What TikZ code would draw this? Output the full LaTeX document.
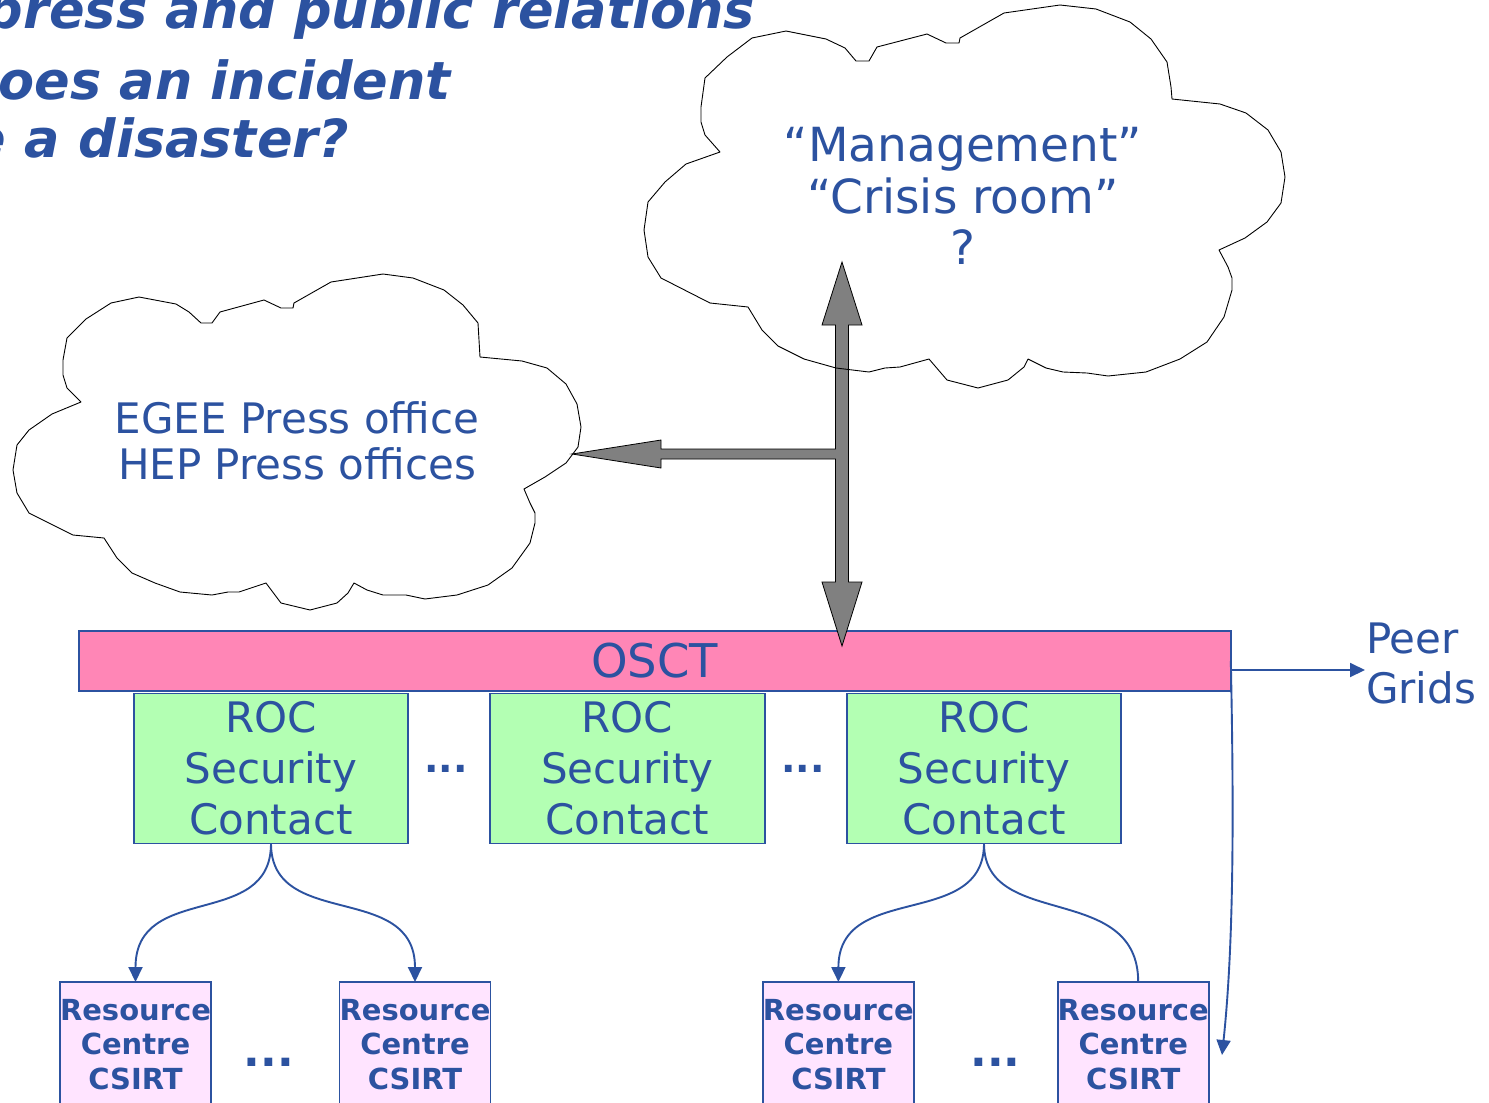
\documentclass[tikz,border=0pt]{standalone}
\usepackage{fontspec}
\setmainfont{DejaVu Sans}
\usetikzlibrary{arrows.meta,calc}
\definecolor{txtblue}{RGB}{44,82,160}
\definecolor{osctpink}{RGB}{255,134,182}
\definecolor{rocgreen}{RGB}{179,255,179}
\definecolor{rcpink}{RGB}{255,228,255}
\definecolor{arrowgray}{RGB}{128,128,128}
\begin{document}
\begin{tikzpicture}[x=1bp,y=-1bp,
  every node/.style={inner sep=0pt, outer sep=0pt, text=txtblue},
  titletxt/.style={anchor=base east, font=\fontsize{52.5bp}{57bp}\selectfont\bfseries\itshape},
  cloudline/.style={draw=black, line width=0.9bp, line join=round},
  osctbar/.style={draw=txtblue, line width=1.8bp, fill=osctpink, minimum width=1152bp, minimum height=60bp, font=\fontsize{46.5bp}{50bp}\selectfont},
  rocbox/.style={draw=txtblue, line width=1.8bp, fill=rocgreen, minimum width=274bp, minimum height=150bp, align=center, font=\fontsize{42bp}{51bp}\selectfont},
  rcbox/.style={draw=txtblue, line width=1.8bp, fill=rcpink, minimum width=151bp, minimum height=125bp, align=center, font=\fontsize{29bp}{34.5bp}\selectfont\bfseries},
  ellipsis/.style={font=\fontsize{38bp}{38bp}\selectfont\bfseries},
  bigellipsis/.style={font=\fontsize{44bp}{44bp}\selectfont\bfseries},
  conn/.style={draw=txtblue, line width=1.9bp},
  arrowend/.style={-{Triangle[length=15bp,width=14bp]}},
  blockarrow/.style={fill=arrowgray, draw=black, line width=0.8bp, line join=miter}
]
\useasboundingbox (0,0) rectangle (1489,1102);
\fill[white] (0,0) rectangle (1489,1102);

% title lines
\node[titletxt] (t1) at (755,28) {press and public relations};
\node[titletxt] (t2) at (451,99.5) {oes an incident};
\node[titletxt] (t3) at (349,157) {e a disaster?};

% OSCT bar and ROC security contacts
\node[osctbar] (osct) at (654.8,661) {OSCT};
\node[rocbox] (roc1) at (271,768.5) {ROC\\Security\\Contact};
\node[rocbox, minimum width=275bp] (roc2) at (627.3,768.5) {ROC\\Security\\Contact};
\node[rocbox] (roc3) at (984,768.5) {ROC\\Security\\Contact};
\node[ellipsis] (d1) at (446,769) {...};
\node[ellipsis] (d2) at (803,769) {...};

% resource centre CSIRTs
\node[rcbox] (rc1) at (135.5,1044.5) {Resource\\Centre\\CSIRT};
\node[rcbox] (rc2) at (415,1044.5) {Resource\\Centre\\CSIRT};
\node[rcbox] (rc3) at (838.4,1044.5) {Resource\\Centre\\CSIRT};
\node[rcbox] (rc4) at (1133.2,1044.5) {Resource\\Centre\\CSIRT};
\node[bigellipsis] (d3) at (269,1062) {...};
\node[bigellipsis] (d4) at (995.5,1062) {...};

% peer grids
\node[align=left, anchor=west, font=\fontsize{42bp}{50bp}\selectfont] (peer) at (1366,663) {Peer\\Grids};
\coordinate (peerin) at (1365,670);
\coordinate (pgend) at (1222,1055);

% connectors
\draw[conn,arrowend] (roc1.south) .. controls ($(roc1.south)+(0,87)$) and ($(rc1.north)+(0,-101)$) .. (rc1.north);
\draw[conn,arrowend] (roc1.south) .. controls ($(roc1.south)+(0,87)$) and ($(rc2.north)+(0,-101)$) .. (rc2.north);
\draw[conn,arrowend] (roc3.south) .. controls ($(roc3.south)+(0,87)$) and ($(rc3.north)+(0,-101)$) .. (rc3.north);
\draw[conn] (roc3.south) .. controls ($(roc3.south)+(0,87)$) and ($(rc4.north)+(5,-101)$) .. ($(rc4.north)+(5,0)$);
\draw[conn,arrowend] (osct.east |- peerin) -- (peerin);
\draw[conn,arrowend] (osct.east) .. controls ($(osct.east)+(4,190)$) and ($(pgend)+(10,-95)$) .. (pgend);

% escalation arrows to management and press offices
\draw[blockarrow] (842,262) -- (862,325) -- (848.5,325) -- (848.5,582) -- (862,582)
  -- (842,646) -- (822,582) -- (835.5,582) -- (835.5,459) -- (661,459) -- (661,468)
  -- (572,454) -- (661,440) -- (661,449) -- (835.5,449) -- (835.5,325) -- (822,325) -- cycle;

% management cloud
\draw[cloudline] (786,31) -- (826,39) -- (845,48) -- (856,61) -- (869,61) -- (877,47)
  -- (927,34) -- (946,43) -- (959,43) -- (960,38) -- (1004,13) -- (1060,5) -- (1096,9)
  -- (1130,22) -- (1151,39) -- (1167,62) -- (1171,87) -- (1172,99) -- (1220,104)
  -- (1246,113) -- (1268,130) -- (1281,152) -- (1285,177) -- (1281,203) -- (1267,222)
  -- (1245,238) -- (1219,250) -- (1228,267) -- (1232,278) -- (1232,290) -- (1224,317)
  -- (1207,342) -- (1180,359) -- (1146,372) -- (1108,376) -- (1087,373) -- (1063,372)
  -- (1046,368) -- (1028,359) -- (1024,367) -- (1008,380) -- (978,388) -- (947,380)
  -- (929,359) -- (900,367) -- (885,368) -- (869,372) -- (836,368) -- (804,359)
  -- (778,346) -- (762,330) -- (748,307) -- (710,303) -- (661,278) -- (648,257)
  -- (644,230) -- (648,202) -- (665,182) -- (686,164) -- (720,152) -- (705,135)
  -- (701,122) -- (701,107) -- (705,78) -- (727,57) -- (752,38) -- cycle;
\node[align=center, font=\fontsize{47bp}{51.5bp}\selectfont] (mgmt) at (963,196) {“Management”\\“Crisis room”\\?};

% press office cloud
\draw[cloudline] (139,297) -- (176,304) -- (189,312) -- (201,323) -- (212,323) -- (220,312)
  -- (264,300) -- (281,308) -- (293,308) -- (294,303) -- (331,282) -- (383,274) -- (413,278)
  -- (444,290) -- (463,305) -- (478,323) -- (480,357) -- (522,361) -- (547,368) -- (566,384)
  -- (577,404) -- (581,427) -- (578,447) -- (572,455) -- (566,463) -- (545,477) -- (524,489)
  -- (530,503) -- (535,513) -- (535,523) -- (530,543) -- (512,568) -- (488,585) -- (457,595)
  -- (425,599) -- (406,595) -- (383,595) -- (367,590) -- (354,583) -- (348,593) -- (337,603)
  -- (310,610) -- (281,603) -- (266,583) -- (239,592) -- (228,592) -- (212,595) -- (180,592)
  -- (155,583) -- (132,573) -- (117,558) -- (104,538) -- (73,535) -- (29,513) -- (17,493)
  -- (13,470) -- (17,445) -- (29,430) -- (52,414) -- (81,402) -- (67,388) -- (63,375)
  -- (63,360) -- (67,338) -- (86,319) -- (111,303) -- cycle;
\node[align=center, font=\fontsize{42bp}{46bp}\selectfont] (press) at (297,441) {EGEE Press office\\HEP Press offices};
\end{tikzpicture}
\end{document}
